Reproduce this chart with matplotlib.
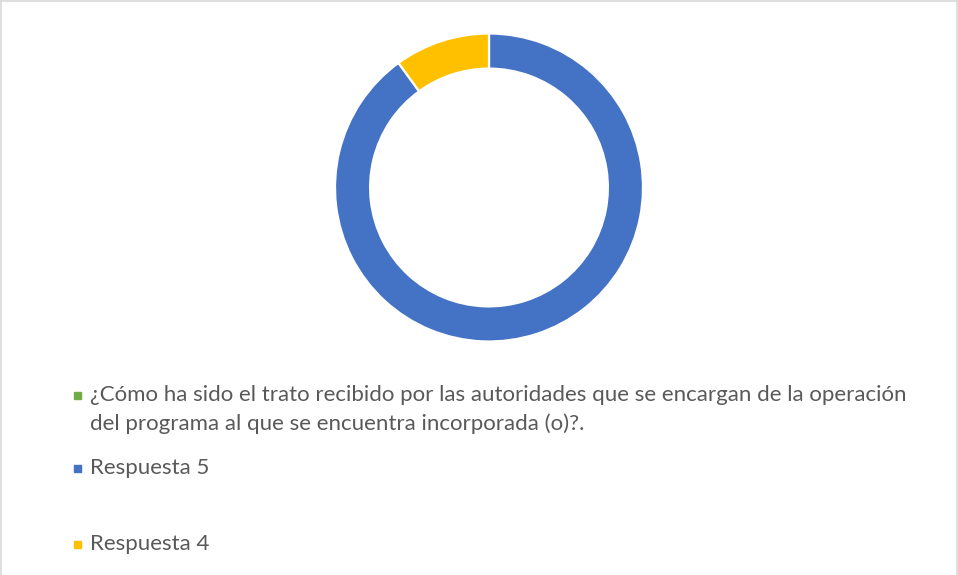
import matplotlib
matplotlib.use("Agg")
import matplotlib.pyplot as plt
from matplotlib.lines import Line2D

question = ["¿Cómo ha sido el trato recibido por las autoridades que se encargan de la operación",
            "del programa al que se encuentra incorporada (o)?."]
categories = ["\n".join(question), "Respuesta 5", "Respuesta 4"]
values = [0, 90, 10]
colors = ["#70AD47", "#4472C4", "#FFC000"]

W, H = 958, 575
fig = plt.figure(figsize=(W / 100, H / 100), dpi=100)

# border
for xs, ys in [([0.5, W - 0.5], [H - 0.5, H - 0.5]), ([0.5, 0.5], [0, H]), ([W - 1, W - 1], [0, H])]:
    fig.add_artist(Line2D([x / W for x in xs], [y / H for y in ys], color="#D9D9D9", lw=1.2))

cx, cy, r = 489, 575 - 187.5, 154
ax = fig.add_axes([(cx - r) / W, (cy - r) / H, 2 * r / W, 2 * r / H])
ax.pie(values, colors=colors, startangle=90, counterclock=False, radius=1,
       wedgeprops=dict(width=0.228, edgecolor="white", linewidth=1.6))
ax.set_xlim(-1, 1)
ax.set_ylim(-1, 1)
ax.set_aspect("equal")
ax.axis("off")

fontfam = ["Lato", "DejaVu Sans"]
fs = 16
txt_color = "#595959"
ypos = [395, 468, 544]
for y, label, col in zip(ypos, categories, colors):
    fig.add_artist(plt.Rectangle((74 / W, (H - y - 4) / H), 7 / W, 7 / H, color=col,
                                 transform=fig.transFigure))
    for k, line in enumerate(label.split("\n")):
        fig.text(90 / W, (H - y - 29 * k) / H, line, fontsize=fs, color=txt_color,
                 family=fontfam, va="center")

fig.savefig("out.png", dpi=100)
